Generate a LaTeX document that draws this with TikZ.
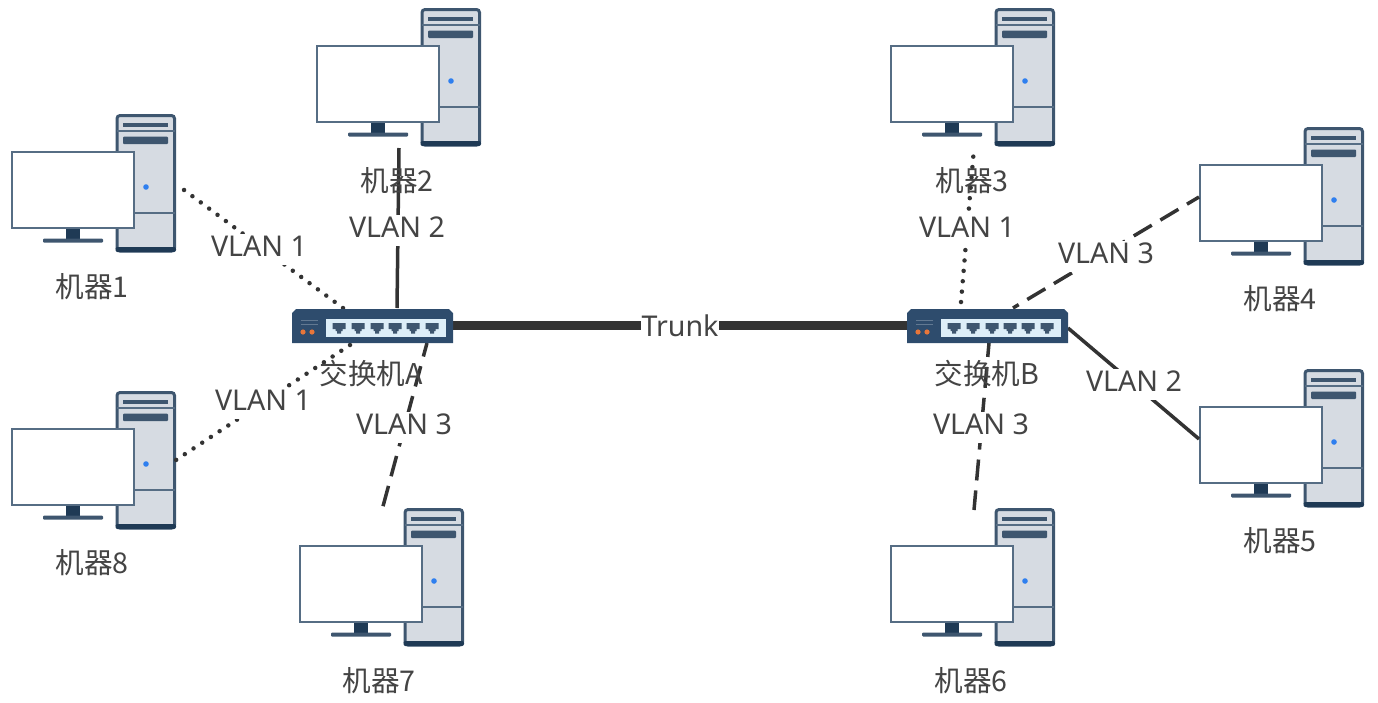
\documentclass[tikz,border=0pt]{standalone}
\usepackage{fontspec}
\setmainfont{Noto Sans}
\newfontfamily\cjk{Noto Sans CJK SC}
\definecolor{navy}{HTML}{1F3A55}
\definecolor{slate}{HTML}{3E566F}
\definecolor{edgeblue}{HTML}{566D84}
\definecolor{towerfill}{HTML}{D6DBE2}
\definecolor{switchbody}{HTML}{2E4C6D}
\definecolor{panelfill}{HTML}{DDEEF8}
\definecolor{ledblue}{HTML}{2F7FEF}
\definecolor{ledorange}{HTML}{E8763A}
\definecolor{ink}{HTML}{444444}
\definecolor{wire}{HTML}{333333}
\tikzset{
  x=1pt,y=-1pt,
  txt/.style={text=ink,font=\fontsize{28.6}{32}\selectfont,inner sep=0pt,text height=21pt,text depth=6pt},
  vlan/.style={txt,fill=white,inner xsep=1pt,inner ysep=2pt},
  wirebase/.style={draw=wire,line width=3.5pt},
  solidwire/.style={wirebase},
  dashwire/.style={wirebase,dash pattern=on 21pt off 10pt,dash phase=7pt},
  dotwire/.style={wirebase,line width=4.5pt,line cap=round,dash pattern=on 0pt off 10.42pt},
  trunkwire/.style={draw=wire,line width=9pt},
  computer/.pic={
    \draw[draw=slate,line width=3pt,fill=towerfill,rounded corners=3pt] (106,-35.5) rectangle (163.5,100);
    \fill[navy,rounded corners=2pt] (104.5,96) rectangle (165,101);
    \draw[edgeblue,line width=1.3pt] (106,-20) -- (164,-20);
    \draw[edgeblue,line width=1.3pt] (106,62) -- (164,62);
    \fill[slate] (112,-28) rectangle (157,-24);
    \fill[slate,rounded corners=1pt] (112,-14.5) rectangle (157,-7);
    \fill[ledblue] (135,36) circle (2.8pt);
    \draw[draw=edgeblue,line width=2.4pt,fill=white] (1.2,1.2) rectangle (122.8,76.8);
    \fill[navy] (55,78) rectangle (69,88);
    \fill[slate,rounded corners=1pt] (32,87.5) rectangle (92,91.5);
  },
  netswitch/.pic={
    \fill[switchbody] (0,34) -- (0,4) -- (4,0) -- (157,0) -- (161,4) -- (161,34) -- cycle;
    \draw[white!25!switchbody,line width=.8pt] (9,11) -- (26,11) (9,15) -- (26,15);
    \fill[ledorange] (11,23) circle (2.6pt) (20,23) circle (2.6pt);
    \fill[panelfill] (34,10) rectangle (154,28);
    \foreach \px in {47,66,85,103,121,140}{
      \fill[slate] (\px-6.5,14) -- (\px+6.5,14) -- (\px+6.5,20) -- (\px+3.5,20) -- (\px+3.5,22) -- (\px+2,22) -- (\px+2,24.5) -- (\px-2,24.5) -- (\px-2,22) -- (\px-3.5,22) -- (\px-3.5,20) -- (\px-6.5,20) -- cycle;
    }
  }
}
\begin{document}
\begin{tikzpicture}
\useasboundingbox (0,0) rectangle (1378,702);
% wire end points
\coordinate (e1) at (176,184);
\coordinate (e2) at (399,148);
\coordinate (e3) at (974,148);
\coordinate (e4) at (1199,197);
\coordinate (e5) at (1199,439);
\coordinate (e6) at (974,510);
\coordinate (e7) at (382,510);
\coordinate (e8) at (176,460);
\coordinate (sa1) at (343,308);
\coordinate (sa2) at (397,308);
\coordinate (sa3) at (427,343);
\coordinate (sa8) at (350,345);
\coordinate (sar) at (452,325);
\coordinate (sbl) at (908,325);
\coordinate (sb3) at (961,302);
\coordinate (sb4) at (1013,308);
\coordinate (sb5) at (1068,328);
\coordinate (sb6) at (989,343);
% computers
\pic (pc1) at (11,151) {computer};
\pic (pc2) at (316,45) {computer};
\pic (pc3) at (890,45) {computer};
\pic (pc4) at (1199,164) {computer};
\pic (pc5) at (1199,406) {computer};
\pic (pc6) at (890,545) {computer};
\pic (pc7) at (299,545) {computer};
\pic (pc8) at (11,428) {computer};
% connectors
\draw[dotwire] (sa1) -- (e1);
\draw[dotwire] (sa8) -- (e8);
\draw[solidwire] (e2) -- (sa2);
\draw[dashwire] (sa3) -- (e7);
\draw[dotwire] (sb3) -- (e3);
\draw[dashwire] (e4) -- (sb4);
\draw[solidwire] (sb5) -- (e5);
\draw[dashwire] (sb6) -- (e6);
\draw[trunkwire] (sar) -- (sbl);
% switches
\pic (swa) at (292,309) {netswitch};
\pic (swb) at (907,309) {netswitch};
% connector labels
\node[vlan] (v1) at (259,249) {VLAN 1};
\node[vlan] (v2) at (397,230) {VLAN 2};
\node[vlan] (v8) at (263,403) {VLAN 1};
\node[vlan] (v7) at (404,427) {VLAN 3};
\node[vlan] (v3) at (967,230) {VLAN 1};
\node[vlan] (v4) at (1106,256) {VLAN 3};
\node[vlan] (v5) at (1134,384) {VLAN 2};
\node[vlan] (v6) at (981,427) {VLAN 3};
\node[vlan] (tr) at (680,329) {Trunk};
% names
\node[txt] (n1) at (92,289.5) {\cjk 机器1};
\node[txt] (n2) at (397,183.5) {\cjk 机器2};
\node[txt] (n3) at (972,183.5) {\cjk 机器3};
\node[txt] (n4) at (1280,301.5) {\cjk 机器4};
\node[txt] (n5) at (1280,543.5) {\cjk 机器5};
\node[txt] (n6) at (971,683.5) {\cjk 机器6};
\node[txt] (n7) at (379,683.5) {\cjk 机器7};
\node[txt] (n8) at (92,565.5) {\cjk 机器8};
\node[txt] (na) at (371,376.5) {\cjk 交换机A};
\node[txt] (nb) at (987,376.5) {\cjk 交换机B};
\end{tikzpicture}
\end{document}
